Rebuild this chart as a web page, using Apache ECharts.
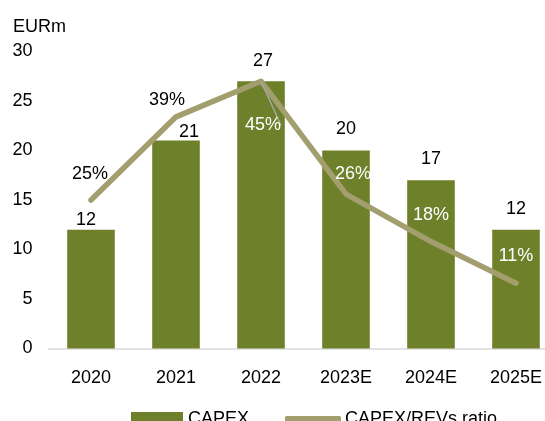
<!DOCTYPE html>
<html>
<head>
<meta charset="utf-8">
<script src="https://cdn.jsdelivr.net/npm/echarts@6/dist/echarts.min.js"></script>
<style>
  html, body { margin: 0; padding: 0; background: #fff; overflow: hidden; width: 545px; height: 421px; }
  #chart { width: 560px; height: 421px; }
</style>
</head>
<body>
<div id="chart"></div>
<script>
// CAPEX (EURm) and CAPEX / revenues ratio (%)
const years = ['2020', '2021', '2022', '2023E', '2024E', '2025E'];
const capex = [12, 21, 27, 20, 17, 12];
const capexRatio = [25, 39, 45, 26, 18, 11];
const leftTicks = [0, 5, 10, 15, 20, 25, 30];

const FONT = '"Liberation Sans", Arial, sans-serif';
const BAR = '#6E8029';
const LINE = '#A39E6E';

// label nudges so values clear the ratio line
const barLabelOffset = [[-5, 11], [13, 12], [2, 1], [0, 0], [0, 0], [0, 0]];
const ratioLabelOffset = [[-1, -26], [-9, -17], [2, 44], [7, -20], [0, -27], [0, -27]];
const ratioLabelColor = ['#000', '#000', '#fff', '#fff', '#fff', '#fff'];

const chart = echarts.init(document.getElementById('chart'), null, { renderer: 'canvas' });

chart.setOption({
  animation: false,
  backgroundColor: '#fff',
  title: {
    text: 'EURm',
    left: 13,
    top: 18,
    padding: 0,
    textStyle: { fontFamily: FONT, fontSize: 18, fontWeight: 'normal', color: '#000' }
  },
  legend: [
    {
      data: [{ name: 'CAPEX', itemStyle: { color: BAR } }],
      left: 131,
      top: 410,
      padding: 0,
      icon: 'rect',
      itemWidth: 52,
      itemHeight: 14,
      itemGap: 5,
      textStyle: { fontFamily: FONT, fontSize: 18, color: '#000', padding: [0, 0, 0, 0] }
    },
    {
      data: [{ name: 'CAPEX/REVs ratio', itemStyle: { color: LINE } }],
      left: 285,
      top: 410,
      padding: 0,
      icon: 'roundRect',
      itemWidth: 56,
      itemHeight: 6,
      textStyle: { fontFamily: FONT, fontSize: 18, color: '#000', padding: [0, 0, 0, -1] }
    }
  ],
  grid: { left: 48.5, width: 510, top: 51.5, bottom: 72.5, containLabel: false },
  xAxis: {
    type: 'category',
    data: years,
    axisLine: { show: true, lineStyle: { color: '#D9D9D9', width: 1.5 } },
    axisTick: { show: false },
    axisLabel: { fontFamily: FONT, fontSize: 18, color: '#000', margin: 21 }
  },
  yAxis: [
    {
      type: 'value',
      min: leftTicks[0],
      max: leftTicks[leftTicks.length - 1],
      interval: 5,
      axisLine: { show: false },
      axisTick: { show: false },
      splitLine: { show: false },
      axisLabel: { fontFamily: FONT, fontSize: 18, color: '#000', margin: 16 }
    },
    {
      type: 'value',
      min: 0,
      max: 50,
      show: false,
      splitLine: { show: false }
    }
  ],
  series: [
    {
      name: 'CAPEX',
      type: 'bar',
      yAxisIndex: 0,
      barWidth: '56%',
      itemStyle: { color: BAR },
      data: capex.map((v, i) => ({
        value: v,
        label: { offset: barLabelOffset[i] }
      })),
      label: {
        show: true,
        position: 'top',
        distance: 12,
        fontFamily: FONT,
        fontSize: 18,
        color: '#000'
      },
      z: 2
    },
    {
      name: 'CAPEX/REVs ratio',
      type: 'line',
      yAxisIndex: 1,
      symbol: 'circle',
      symbolSize: 0.1,
      showSymbol: true,
      lineStyle: { color: LINE, width: 5.5, cap: 'round', join: 'round' },
      itemStyle: { color: LINE },
      data: capexRatio.map((v, i) => ({
        value: v,
        label: { offset: ratioLabelOffset[i], color: ratioLabelColor[i] },
        labelLine: i === 2
          ? { show: true, length2: 0, lineStyle: { color: '#A6A6A6', width: 1.5 } }
          : { show: false }
      })),
      label: {
        show: true,
        position: 'inside',
        fontFamily: FONT,
        fontSize: 18,
        formatter: p => p.value + '%'
      },
      z: 3
    }
  ]
});
</script>
</body>
</html>
